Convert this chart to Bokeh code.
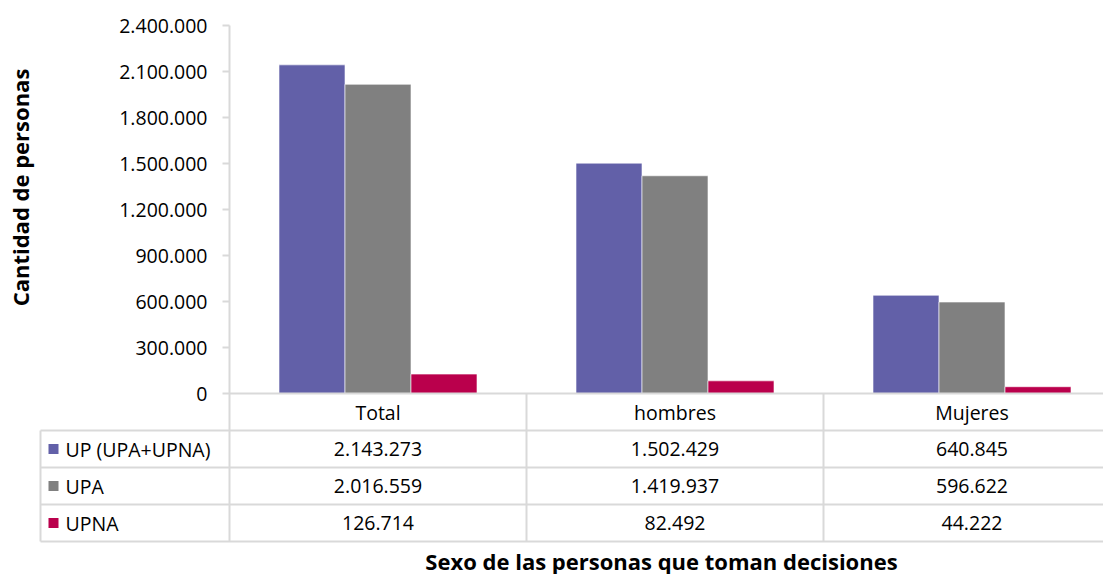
import math
from bokeh.plotting import figure
from bokeh.models import FixedTicker, LinearAxis, CustomJSTickFormatter, ColumnDataSource, Range1d
from bokeh.core.properties import value
from bokeh.embed import file_html
from bokeh.resources import INLINE

# ---------------- data ----------------
categories = ["Total", "hombres", "Mujeres"]
series_names = ["UP (UPA+UPNA)", "UPA", "UPNA"]
up_total = [2143273, 1502429, 640845]
upa = [2016559, 1419937, 596622]
upna = [126714, 82492, 44222]
y_ticks = [0, 300000, 600000, 900000, 1200000, 1500000, 1800000, 2100000, 2400000]
x_title = "Sexo de las personas que toman decisiones"
y_title = "Cantidad de personas"

series_values = [up_total, upa, upna]
colors = ["#6260a8", "#808080", "#ba004c"]

# ---------------- layout constants ----------------
FONT = "Open Sans"
FS = "19.5px"
TFS = "22px"
GRID = "#d9d9d9"
W, H = 1103, 574              # figure = frame
PX = 2400000 / 368.0          # data units per pixel (y)
ROW = 37 * PX                 # table row height
CAT = 297.0                   # pixels per category
AXIS_PX, ZERO_PY = 229, 393


def px_to_x(px):
    return (px - AXIS_PX) / CAT


def py_to_y(py):
    return (ZERO_PY - py) * PX


def fmt(v):
    return f"{v:,}".replace(",", ".")


p = figure(width=W, height=H, output_backend="svg", toolbar_location=None,
           x_range=Range1d(px_to_x(0), px_to_x(W)),
           y_range=Range1d(py_to_y(H), py_to_y(0)),
           min_border_left=0, min_border_top=0, min_border_right=0, min_border_bottom=0)
p.outline_line_color = None
p.xgrid.visible = False
p.ygrid.visible = False
p.xaxis.visible = False
p.yaxis.visible = False

# value axis drawn at x = 0
yax = LinearAxis(fixed_location=0, ticker=FixedTicker(ticks=y_ticks),
                 formatter=CustomJSTickFormatter(code="""
                     return Math.round(tick).toString().replace(/\\B(?=(\\d{3})+(?!\\d))/g, '.');
                 """),
                 bounds=(-4 * ROW, 2400000))
yax.axis_line_color = GRID
yax.axis_line_width = 2
yax.major_tick_line_color = GRID
yax.major_tick_line_width = 2
yax.major_tick_out = 7
yax.major_tick_in = 0
yax.minor_tick_line_color = None
yax.major_label_standoff = 15
yax.major_label_text_font = FONT
yax.major_label_text_font_size = FS
yax.major_label_text_color = "black"
p.add_layout(yax, "left")

# bars
offsets = [-66 / CAT, 0.0, 66 / CAT]
for name, vals, col, off in zip(series_names, series_values, colors, offsets):
    src = ColumnDataSource(dict(x=[i + 0.5 + off for i in range(len(categories))], top=vals))
    p.vbar(x="x", top="top", width=66 / CAT, bottom=0, source=src,
           fill_color=col, line_color="white", line_width=0.6)

# table lines
n = len(categories)
hx0 = [0] + [px_to_x(40)] * 4
hx1 = [n] * 5
hy = [0, -ROW, -2 * ROW, -3 * ROW, -4 * ROW]
p.segment(x0=hx0, y0=hy, x1=hx1, y1=hy, line_color=GRID, line_width=2)
vx = [1, 2, 3, px_to_x(40)]
vy0 = [0, 0, 0, -ROW]
vy1 = [-4 * ROW] * 4
p.segment(x0=vx, y0=vy0, x1=vx, y1=vy1, line_color=GRID, line_width=2)

# header row: categories
p.text(x=[i + 0.5 for i in range(n)], y=[-ROW / 2] * n, text=categories,
       text_font=value(FONT), text_font_size=FS, text_color="black",
       text_align="center", text_baseline="middle")

# data rows
for r, (name, vals, col) in enumerate(zip(series_names, series_values, colors)):
    yc = -ROW * (1.5 + r)
    p.text(x=[i + 0.5 for i in range(n)], y=[yc] * n, text=[fmt(v) for v in vals],
           text_font=value(FONT), text_font_size=FS, text_color="black",
           text_align="center", text_baseline="middle")
    p.scatter(x=[px_to_x(53)], y=[yc], marker="square", size=10,
              fill_color=col, line_color=None)
    p.text(x=[px_to_x(65)], y=[yc], text=[name],
           text_font=value(FONT), text_font_size=FS, text_color="black",
           text_align="left", text_baseline="middle")

# axis titles
p.text(x=[px_to_x(19)], y=[py_to_y(187)], text=[y_title], angle=math.pi / 2,
       text_font=value(FONT), text_font_size=TFS, text_font_style="bold",
       text_color="black", text_align="center", text_baseline="middle")
p.text(x=[px_to_x(661)], y=[py_to_y(560)], text=[x_title],
       text_font=value(FONT), text_font_size=TFS, text_font_style="bold",
       text_color="black", text_align="center", text_baseline="alphabetic")

open("out.html", "w").write(file_html(p, INLINE))
